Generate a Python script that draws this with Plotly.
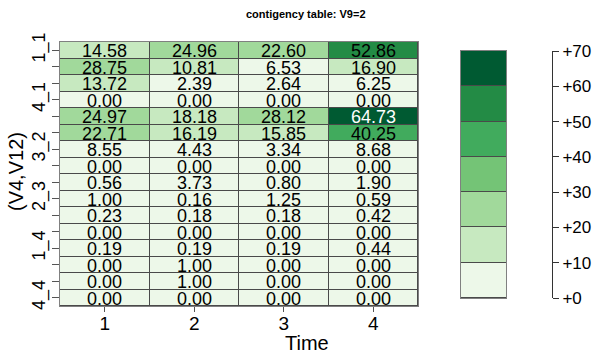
import plotly.graph_objects as go

# ---- data ----
time_labels = ["1", "2", "3", "4"]
row_labels = ["1_1", "2_1", "3_1", "4_1",
              "1_2", "2_2", "3_2", "4_2",
              "1_3", "2_3", "3_3", "4_3",
              "1_4", "2_4", "3_4", "4_4"]
time1 = [14.58, 28.75, 13.72, 0.00, 24.97, 22.71, 8.55, 0.00, 0.56, 1.00, 0.23, 0.00, 0.19, 0.00, 0.00, 0.00]
time2 = [24.96, 10.81, 2.39, 0.00, 18.18, 16.19, 4.43, 0.00, 3.73, 0.16, 0.18, 0.00, 0.19, 1.00, 1.00, 0.00]
time3 = [22.60, 6.53, 2.64, 0.00, 28.12, 15.85, 3.34, 0.00, 0.80, 1.25, 0.18, 0.00, 0.19, 0.00, 0.00, 0.00]
time4 = [52.86, 16.90, 6.25, 0.00, 64.73, 40.25, 8.68, 0.00, 1.90, 0.59, 0.42, 0.00, 0.44, 0.00, 0.00, 0.00]
bins = [0, 10, 20, 30, 40, 50, 60, 70]
bin_colors = ["#EDF8E9", "#C7E9C0", "#A1D99B", "#74C476", "#41AB5D", "#238B45", "#005A32"]
shown_rows = ["1_1", "4_1", "3_2", "2_3", "1_4", "4_4"]

W, H = 595, 354
FONT = "Liberation Sans, Arial, sans-serif"

columns = [time1, time2, time3, time4]
nr, nc = len(row_labels), len(time_labels)
z = [[columns[c][r] for c in range(nc)] for r in range(nr)]

zmin, zmax = bins[0], bins[-1]
nb = len(bin_colors)
colorscale = []
for i, c in enumerate(bin_colors):
    colorscale.append([i / nb, c])
    colorscale.append([(i + 1) / nb, c])

fig = go.Figure()
fig.add_trace(go.Heatmap(
    z=z, x=time_labels, y=row_labels,
    colorscale=colorscale, zmin=zmin, zmax=zmax,
    showscale=False, xgap=1, ygap=1, hoverinfo="skip",
))

# cell text (category index positions)
for r in range(nr):
    for c in range(nc):
        v = columns[c][r]
        idx = min(int((v - zmin) // 10), nb - 1)
        fig.add_annotation(
            x=c, y=r, xref="x", yref="y", text=f"{v:.2f}", showarrow=False,
            xanchor="center", yanchor="middle",
            font=dict(family=FONT, size=18, color="white" if idx >= nb - 1 else "black"),
            yshift=-1,
        )

# legend key (discrete bins)
mids = [(bins[i] + bins[i + 1]) / 2 for i in range(nb)]
fig.add_trace(go.Heatmap(
    z=[[m] for m in mids], y=mids, x=[0],
    colorscale=colorscale, zmin=zmin, zmax=zmax,
    showscale=False, ygap=1, xaxis="x2", yaxis="y2", hoverinfo="skip",
))
fig.add_trace(go.Scatter(
    x=[0, 0], y=[bins[0], bins[-1]], xaxis="x2", yaxis="y3",
    mode="markers", marker=dict(opacity=0), hoverinfo="skip", showlegend=False,
))

fig.update_layout(
    width=W, height=H,
    margin=dict(l=0, r=0, t=0, b=0, autoexpand=False),
    paper_bgcolor="white", plot_bgcolor="#4a4a4a",
    showlegend=False,
    font=dict(family=FONT, color="black"),
    xaxis=dict(type="category", domain=[60 / W, 418 / W], range=[-0.5, nc - 0.5],
               automargin=False, showgrid=False, zeroline=False,
               showline=True, linecolor="#808080", mirror=True,
               ticks="outside", ticklen=5, tickcolor="#555", ticklabelstandoff=-5,
               tickfont=dict(family=FONT, size=19, color="black")),
    yaxis=dict(type="category", domain=[1 - 306 / H, 1 - 42 / H], range=[nr - 0.5, -0.5],
               automargin=False, showgrid=False, zeroline=False,
               showline=True, linecolor="#808080", mirror=True,
               tickmode="array", tickvals=row_labels,
               ticktext=[l if l in shown_rows else "" for l in row_labels],
               ticks="outside", ticklen=7, tickcolor="#555", tickangle=-90,
               tickfont=dict(family=FONT, size=18, color="black")),
    xaxis2=dict(domain=[461 / W, 506 / W], anchor="y2", automargin=False,
                showgrid=False, zeroline=False,
                showticklabels=False, showline=True, linecolor="#808080", mirror=True,
                range=[-0.5, 0.5]),
    yaxis2=dict(domain=[1 - 298 / H, 1 - 51 / H], anchor="x2", range=[zmin, zmax],
                automargin=False, showgrid=False, zeroline=False, showticklabels=False,
                showline=True, linecolor="#808080", mirror=True),
    yaxis3=dict(overlaying="y2", anchor="free", position=552 / W, side="right",
                automargin=False, range=[zmin, zmax], showgrid=False, zeroline=False,
                showline=True, linecolor="#333", linewidth=1,
                tickmode="array", tickvals=bins, ticktext=["+" + str(b) for b in bins],
                ticks="outside", ticklen=6, tickcolor="#333",
                tickfont=dict(family=FONT, size=17, color="black")),
)

fig.add_annotation(text="<b>contigency table: V9=2</b>", x=306 / W, y=1 - 14 / H,
                   xref="paper", yref="paper", showarrow=False,
                   xanchor="center", yanchor="middle",
                   font=dict(family=FONT, size=11, color="black"))
fig.add_annotation(text="Time", x=307 / W, y=1 - 343 / H,
                   xref="paper", yref="paper", showarrow=False,
                   xanchor="center", yanchor="middle",
                   font=dict(family=FONT, size=20, color="black"))
fig.add_annotation(text="(V4,V12)", x=16 / W, y=1 - 172 / H, textangle=-90,
                   xref="paper", yref="paper", showarrow=False,
                   xanchor="center", yanchor="middle",
                   font=dict(family=FONT, size=20, color="black"))

fig.write_html("out.html", config={"displayModeBar": False},
               post_script="document.body.style.margin='0';")
